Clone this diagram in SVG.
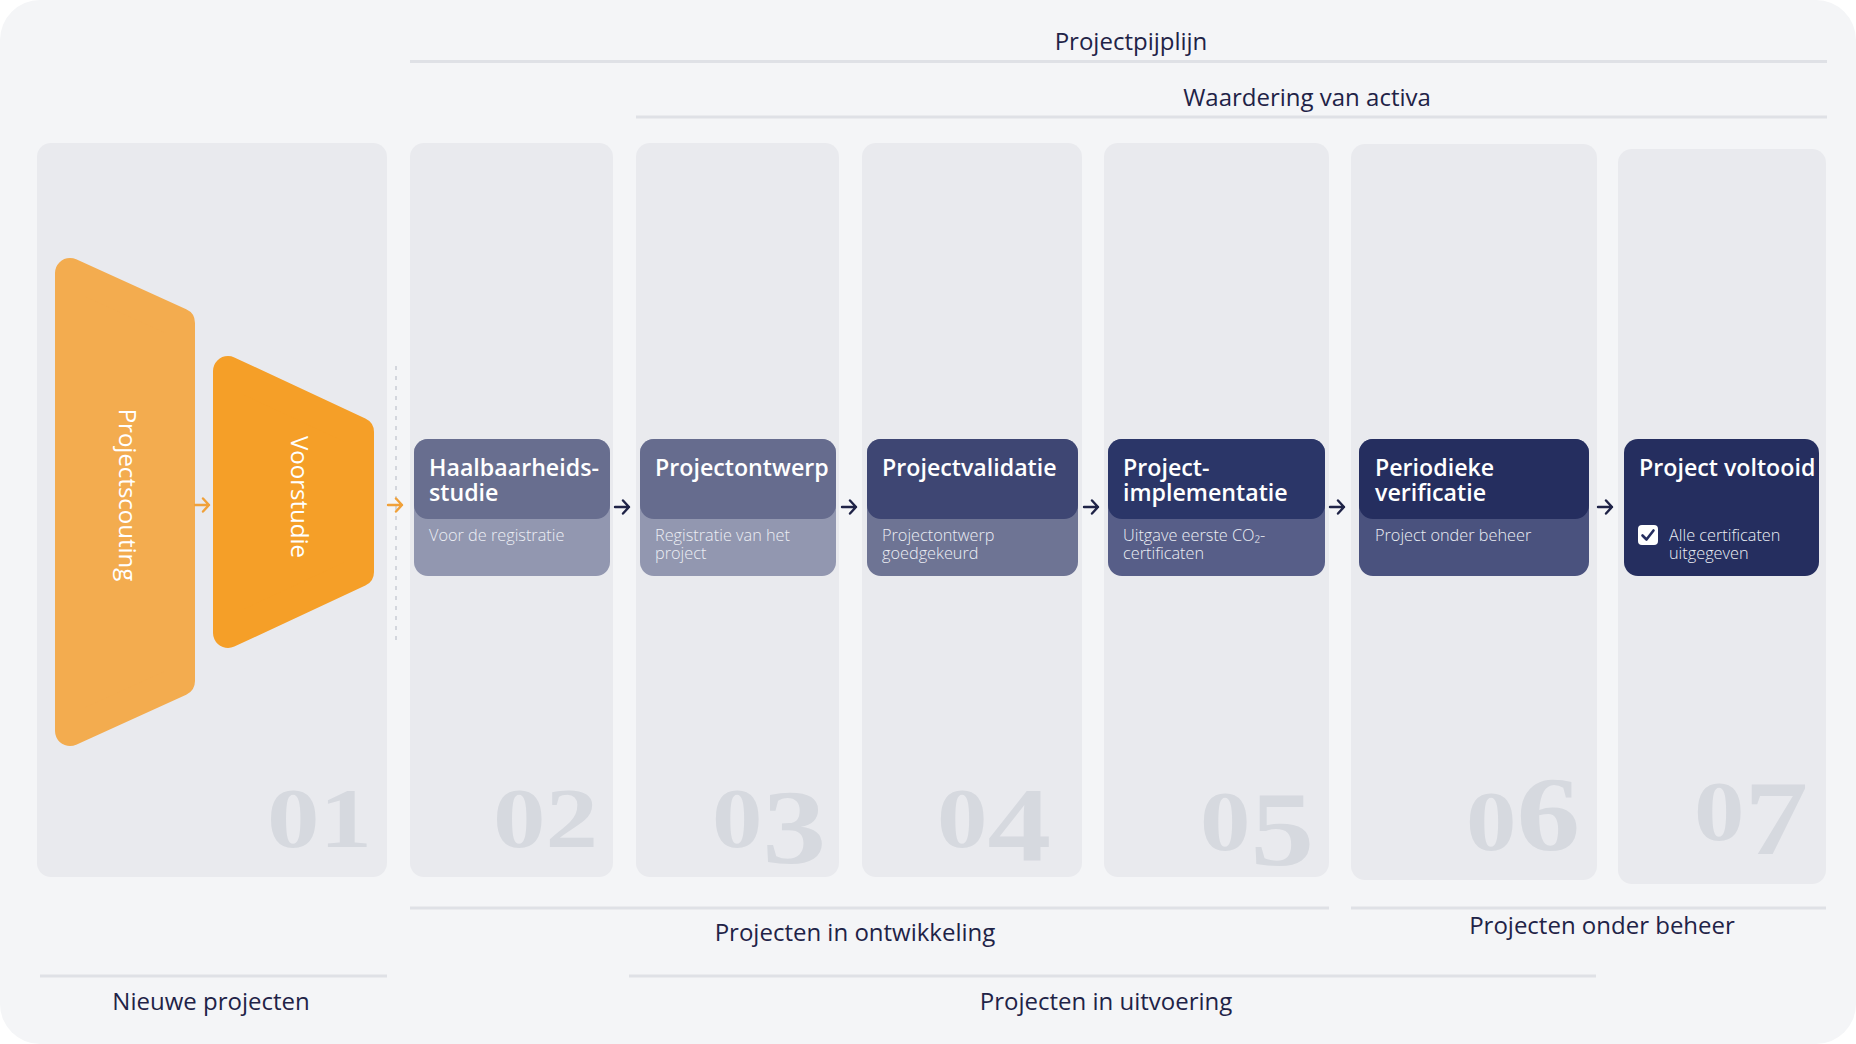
<svg xmlns="http://www.w3.org/2000/svg" width="1856" height="1044" viewBox="0 0 1856 1044">
<defs>
<style>
.lbl{font-family:"Open Sans","Liberation Sans",sans-serif;font-size:24px;font-weight:500;fill:#1f2347;text-anchor:middle}
.col{fill:#e9eaee}
.rule{stroke:#dfe1e6;stroke-width:3;fill:none}
.num{font-family:"Liberation Serif","DejaVu Serif",serif;font-weight:bold;font-size:84px;fill:#d6d9df;text-anchor:end}
.tall{font-size:106px}
.ttl{font-family:"Open Sans","Liberation Sans",sans-serif;font-size:23.2px;font-weight:600;fill:#ffffff}
.sub{font-family:"Open Sans","Liberation Sans",sans-serif;font-size:16.3px;font-weight:300;fill:#eceef4}
.vert{font-family:"Open Sans","Liberation Sans",sans-serif;font-size:24px;font-weight:400;fill:#ffffff;text-anchor:middle}
.arr{fill:none;stroke:#1f2347;stroke-width:2.4;stroke-linecap:round;stroke-linejoin:round}
.oarr{fill:none;stroke:#f0a13a;stroke-width:2.4;stroke-linecap:round;stroke-linejoin:round}
</style>
<g id="arrowNavy"><path class="arr" d="M-7 0H7M1 -6.5L7 0L1 6.5"/></g>
<g id="arrowOrange"><path class="oarr" d="M-7 0H7M1 -6.5L7 0L1 6.5"/></g>
</defs>

<rect width="1856" height="1044" fill="#ffffff"/>
<rect width="1856" height="1044" rx="40" fill="#f4f5f7"/>

<g id="headers">
<text class="lbl" x="1131" y="50">Projectpijplijn</text>
<line class="rule" x1="410" y1="61.5" x2="1827" y2="61.5"/>
<text class="lbl" x="1307" y="106">Waardering van activa</text>
<line class="rule" x1="636" y1="117" x2="1827" y2="117"/>
</g>

<g id="columns">
<rect class="col" x="37" y="143" width="350" height="734" rx="14"/>
<rect class="col" x="410" y="143" width="203" height="734" rx="14"/>
<rect class="col" x="636" y="143" width="203" height="734" rx="14"/>
<rect class="col" x="862" y="143" width="220" height="734" rx="14"/>
<rect class="col" x="1104" y="143" width="225" height="734" rx="14"/>
<rect class="col" x="1351" y="144" width="246" height="736" rx="14"/>
<rect class="col" x="1618" y="149" width="208" height="735" rx="14"/>
</g>

<g id="numbers">
<text class="num" transform="translate(372 847) scale(1.25 1)">01</text>
<text class="num" transform="translate(598 847) scale(1.25 1)">02</text>
<text class="num" transform="translate(826 847) scale(1.2 1)">0<tspan class="tall" dy="16">3</tspan></text>
<text class="num" transform="translate(1051 847) scale(1.2 1)">0<tspan class="tall" dy="14">4</tspan></text>
<text class="num" transform="translate(1314 850) scale(1.2 1)">0<tspan class="tall" dy="15">5</tspan></text>
<text class="num" transform="translate(1580 850) scale(1.2 1)">0<tspan class="tall">6</tspan></text>
<text class="num" transform="translate(1808 840) scale(1.2 1)">0<tspan class="tall" dy="14">7</tspan></text>
</g>

<g id="node-projectscouting">
<polygon points="70,273 180,323 180,681 70,731" fill="#f3ac4f" stroke="#f3ac4f" stroke-width="30" stroke-linejoin="round"/>
<text class="vert" transform="translate(119 495) rotate(90)">Projectscouting</text>
</g>

<g id="node-voorstudie">
<polygon points="228,371 359,432 359,572 228,633" fill="#f59f28" stroke="#f59f28" stroke-width="30" stroke-linejoin="round"/>
<text class="vert" transform="translate(291 497) rotate(90)">Voorstudie</text>
</g>

<g id="node-haalbaarheidsstudie">
<rect x="414" y="439" width="196" height="137" rx="14" fill="#9297b0"/>
<rect x="414" y="439" width="196" height="80" rx="14" fill="#686e8f"/>
<text class="ttl" x="429" y="476">Haalbaarheids-<tspan x="429" dy="25">studie</tspan></text>
<text class="sub" x="429" y="541">Voor de registratie</text>
</g>

<g id="node-projectontwerp">
<rect x="640" y="439" width="196" height="137" rx="14" fill="#9297b0"/>
<rect x="640" y="439" width="196" height="80" rx="14" fill="#666c8e"/>
<text class="ttl" x="655" y="476">Projectontwerp</text>
<text class="sub" x="655" y="541">Registratie van het<tspan x="655" dy="17.5">project</tspan></text>
</g>

<g id="node-projectvalidatie">
<rect x="867" y="439" width="211" height="137" rx="14" fill="#6e7494"/>
<rect x="867" y="439" width="211" height="80" rx="14" fill="#3e4673"/>
<text class="ttl" x="882" y="476">Projectvalidatie</text>
<text class="sub" x="882" y="541">Projectontwerp<tspan x="882" dy="17.5">goedgekeurd</tspan></text>
</g>

<g id="node-projectimplementatie">
<rect x="1108" y="439" width="217" height="137" rx="14" fill="#575e88"/>
<rect x="1108" y="439" width="217" height="80" rx="14" fill="#2b3668"/>
<text class="ttl" x="1123" y="476">Project-<tspan x="1123" dy="25">implementatie</tspan></text>
<text class="sub" x="1123" y="541">Uitgave eerste CO₂-<tspan x="1123" dy="17.5">certificaten</tspan></text>
</g>

<g id="node-periodieke-verificatie">
<rect x="1359" y="439" width="230" height="137" rx="14" fill="#4a527e"/>
<rect x="1359" y="439" width="230" height="80" rx="14" fill="#252e5f"/>
<text class="ttl" x="1375" y="476">Periodieke<tspan x="1375" dy="25">verificatie</tspan></text>
<text class="sub" x="1375" y="541">Project onder beheer</text>
</g>

<g id="node-project-voltooid">
<rect x="1624" y="439" width="195" height="137" rx="14" fill="#252e5f"/>
<text class="ttl" x="1639" y="476">Project voltooid</text>
<rect x="1638" y="525" width="20" height="20" rx="4" fill="#ffffff"/>
<path d="M1642.5 535.5L1646.5 539.5L1653.5 530.5" fill="none" stroke="#252e5f" stroke-width="2.6" stroke-linecap="round" stroke-linejoin="round"/>
<text class="sub" x="1669" y="541">Alle certificaten<tspan x="1669" dy="17.5">uitgegeven</tspan></text>
</g>

<g id="connectors">
<line x1="396" y1="366" x2="396" y2="642" stroke="#d3d6dd" stroke-width="2" stroke-dasharray="4 6"/>
<use href="#arrowOrange" x="202" y="505"/>
<use href="#arrowOrange" x="395" y="505"/>
<use href="#arrowNavy" x="622" y="507"/>
<use href="#arrowNavy" x="849" y="507"/>
<use href="#arrowNavy" x="1091" y="507"/>
<use href="#arrowNavy" x="1337" y="507"/>
<use href="#arrowNavy" x="1605" y="507"/>
</g>

<g id="footers">
<line class="rule" x1="410" y1="908" x2="1329" y2="908"/>
<text class="lbl" x="855" y="941">Projecten in ontwikkeling</text>
<line class="rule" x1="1351" y1="908" x2="1826" y2="908"/>
<text class="lbl" x="1602" y="934">Projecten onder beheer</text>
<line class="rule" x1="40" y1="976" x2="387" y2="976"/>
<text class="lbl" x="211" y="1010">Nieuwe projecten</text>
<line class="rule" x1="629" y1="976" x2="1596" y2="976"/>
<text class="lbl" x="1106" y="1010">Projecten in uitvoering</text>
</g>
</svg>
